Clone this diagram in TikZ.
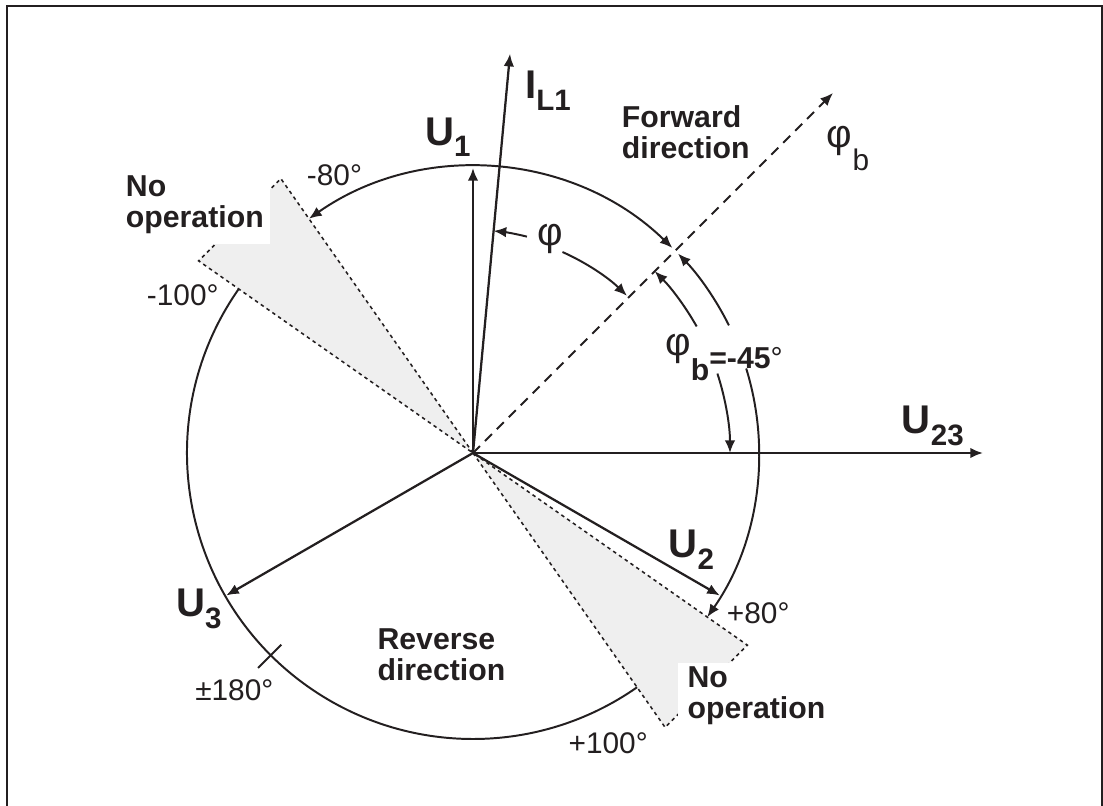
\documentclass[tikz,border=0pt]{standalone}
\usepackage{fontspec}
\setmainfont{Liberation Sans}
\usetikzlibrary{arrows.meta}

\definecolor{ink}{RGB}{35,31,32}
\definecolor{zonegray}{RGB}{239,239,239}

\newcommand{\vecfont}{\fontsize{28.5}{30}\selectfont\bfseries}
\newcommand{\idxfont}{\fontsize{21}{22}\selectfont\bfseries}
\newcommand{\zonefont}{\fontsize{21.5}{22}\selectfont\bfseries}
\newcommand{\angfont}{\fontsize{21.2}{22}\selectfont}
\newcommand{\phifont}{\fontsize{28}{28}\selectfont\mdseries}
\newcommand{\vlabel}[2]{\vecfont #1\raisebox{-8.5pt}{\idxfont #2}}

\tikzset{
  vec/.style={ink,line width=1.6pt,->},
  circ/.style={ink,line width=1.4pt},
  refline/.style={ink,line width=1.3pt,dash pattern=on 7pt off 5pt},
  zone/.style={ink,line width=1.1pt,dash pattern=on 2.5pt off 2.5pt},
  lab/.style={inner sep=0pt,text=ink},
  zonelab/.style={fill=white,text=ink,align=left,font=\zonefont},
}

\begin{document}
\begin{tikzpicture}[x=0.025cm,y=0.025cm,>={Latex[length=9pt,width=7.5pt]}]
\useasboundingbox (-473,-352) rectangle (630,453);
\draw[ink,line width=1.4pt] (-466.3,-360) -- (-466.3,447.3) -- (628.7,447.3) -- (628.7,-360);

\coordinate (O) at (0,0);

% zones without operation
\foreach \a in {125,-55} {
  \fill[zonegray] (O) -- (\a:335) -- (\a+20:335) -- cycle;
  \draw[zone] (O) -- (\a:335) -- (\a+20:335) -- cycle;
}
\node[zonelab,anchor=south east,inner xsep=0.15cm,inner ysep=0.25cm] (noopA) at (-203,208.7) {No\\operation};
\node[zonelab,anchor=north west,inner xsep=0.25cm,inner ysep=0.1cm] (noopB) at (204.3,-209.3) {No\\operation};

% circle
\draw[circ] (145:286) arc[start angle=145,end angle=305,radius=286];
\draw[circ,<->] (45.8:286) arc[start angle=45.8,end angle=125,radius=286];
\draw[circ,<-] (44.2:286) arc[start angle=44.2,end angle=26.5,radius=286];
\draw[circ,->] (17.2:286) arc[start angle=17.2,end angle=-35,radius=286];
\draw[circ] (225:271) -- (225:304);

% angles
\draw[circ,->] (76:223) arc[start angle=76,end angle=84.7,radius=223];
\draw[circ,->] (66:220) arc[start angle=66,end angle=45.6,radius=220];
\draw[circ,<-] (45:257) arc[start angle=45,end angle=29.5,radius=257];
\draw[circ,->] (18:257) arc[start angle=18,end angle=0,radius=257];

% phasors
\coordinate (tU1) at (90:285);
\coordinate (tU2) at (-30:285);
\coordinate (tU3) at (210:285);
\coordinate (tU23) at (0:510);
\coordinate (tIL) at (84.7:401);
\coordinate (tphib) at (45:509);
\draw[refline,->] (O) -- (tphib);
\draw[vec] (O) -- (tU1);
\draw[vec] (O) -- (tU2);
\draw[vec] (O) -- (tU3);
\draw[vec] (O) -- (tU23);
\draw[vec] (O) -- (tIL);

% labels
\node[lab,anchor=base west] (lU1) at (-48,308) {\vlabel{U}{1}};
\node[lab,anchor=base west] (lU2) at (195.3,-104.3) {\vlabel{U}{2}};
\node[lab,anchor=base west] (lU3) at (-297,-163.7) {\vlabel{U}{3}};
\node[lab,anchor=base west] (lU23) at (428.7,19.7) {\vlabel{U}{23}};
\node[lab,anchor=base west] (lIL) at (52,354.7) {\vlabel{I}{L1}};
\node[lab,anchor=north west,align=left,font=\zonefont] (fwd) at (148.7,348) {Forward\\direction};
\node[lab,anchor=north west,align=left,font=\zonefont] (rev) at (-95.7,-175.3) {Reverse\\direction};
\node[lab,anchor=base west,font=\angfont] (m80) at (-166.3,268) {-80°};
\node[lab,anchor=base west,font=\angfont] (m100) at (-326.3,148) {-100°};
\node[lab,anchor=base west,font=\angfont] (p80) at (253.7,-170.3) {+80°};
\node[lab,anchor=base east,font=\angfont] (p100) at (175,-300.3) {+100°};
\node[lab,anchor=base west,font=\angfont] (p180) at (-278,-247) {±180°};
\node[lab,anchor=base west] (lphib) at (353.7,306) {\phifont φ\raisebox{-16.4pt}{\angfont b}};
\node[lab,font=\phifont] (lphi) at (77,214) {φ};
\node[lab,anchor=base west,font=\zonefont] (lphibval) at (192,84.7) {\raisebox{9.2pt}{\phifont φ\raisebox{-17.6pt}{\zonefont b}}=-45\mdseries°};
\end{tikzpicture}
\end{document}
